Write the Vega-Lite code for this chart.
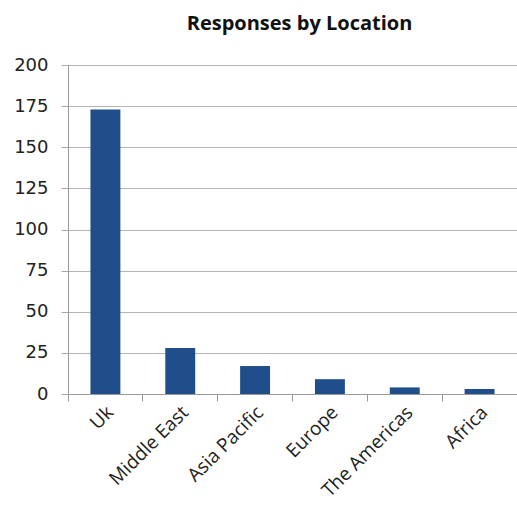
{
  "$schema": "https://vega.github.io/schema/vega-lite/v6.json",
  "width": 449,
  "height": 329,
  "autosize": {"type": "none"},
  "padding": {"left": 68, "top": 65, "right": 0, "bottom": 111},
  "background": "white",
  "title": {
    "text": "Responses by Location",
    "font": "Open Sans",
    "fontSize": 20,
    "fontWeight": "bold",
    "color": "#111111",
    "anchor": "middle",
    "baseline": "alphabetic",
    "offset": 6,
    "dx": 7
  },
  "data": {
    "values": [
      {"location": "Uk", "responses": 173},
      {"location": "Middle East", "responses": 28},
      {"location": "Asia Pacific", "responses": 17},
      {"location": "Europe", "responses": 9},
      {"location": "The Americas", "responses": 4},
      {"location": "Africa", "responses": 3}
    ]
  },
  "mark": {"type": "bar", "color": "#1F4E8A", "width": {"band": 0.4}},
  "encoding": {
    "x": {
      "field": "location",
      "type": "nominal",
      "sort": null,
      "scale": {"paddingInner": 0, "paddingOuter": 0},
      "axis": {
        "title": null,
        "bandPosition": 0,
        "labelAngle": -45,
        "labelAlign": "right",
        "labelBaseline": "middle",
        "labelFont": "Open Sans",
        "labelFontSize": 19,
        "labelColor": "#222222",
        "labelPadding": 8,
        "labelOffset": 5,
        "labelOverlap": false,
        "tickSize": 7,
        "tickColor": "#9a9a9a",
        "domainColor": "#9a9a9a",
        "grid": false
      }
    },
    "y": {
      "field": "responses",
      "type": "quantitative",
      "scale": {"domain": [0, 200], "nice": false},
      "axis": {
        "title": null,
        "values": [0, 25, 50, 75, 100, 125, 150, 175, 200],
        "labelFont": "DejaVu Sans",
        "labelFontSize": 18,
        "labelColor": "#222222",
        "labelPadding": 13,
        "tickSize": 7,
        "tickColor": "#a8a8a8",
        "domainColor": "#9a9a9a",
        "grid": true,
        "gridColor": "#b4b4b4",
        "gridWidth": 1.2
      }
    }
  },
  "config": {"view": {"stroke": null}}
}
